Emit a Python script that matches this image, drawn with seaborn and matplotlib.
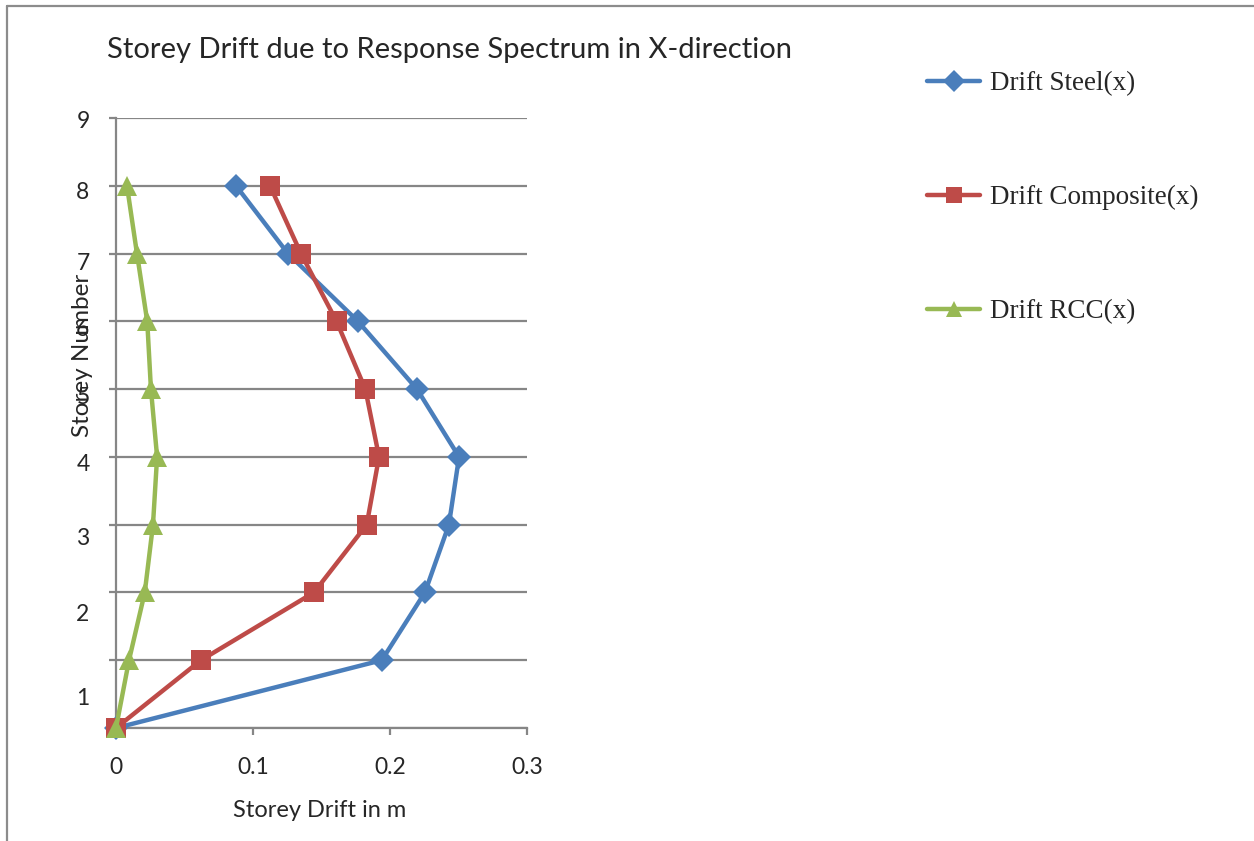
import matplotlib
matplotlib.use("Agg")
import matplotlib.pyplot as plt
import matplotlib.lines as mlines
import seaborn as sns
import pandas as pd
import numpy as np

# ---- data ----
storeys = [0, 1, 2, 3, 4, 5, 6, 7, 8]
drift_steel = [0.0, 0.194, 0.2255, 0.243, 0.2504, 0.2197, 0.1766, 0.1255, 0.0876]
drift_composite = [0.0, 0.062, 0.1445, 0.183, 0.192, 0.182, 0.161, 0.135, 0.1124]
drift_rcc = [0.0, 0.0095, 0.021, 0.027, 0.030, 0.0255, 0.0228, 0.0153, 0.008]
series_names = ["Drift Steel(x)", "Drift Composite(x)", "Drift RCC(x)"]
x_ticks = [0, 0.1, 0.2, 0.3]
x_tick_labels = ["0", "0.1", "0.2", "0.3"]
y_grid = [0, 1, 2, 3, 4, 5, 6, 7, 8, 9]
y_label_pos = [0.47, 1.71, 2.83, 3.92, 4.91, 5.91, 6.89, 7.93, 8.98]
y_label_text = ["1", "2", "3", "4", "5", "6", "7", "8", "9"]

colors = {"Drift Steel(x)": "#4A7EBB", "Drift Composite(x)": "#BE4B48", "Drift RCC(x)": "#98B954"}
markers = {"Drift Steel(x)": "D", "Drift Composite(x)": "s", "Drift RCC(x)": "^"}

df = pd.concat([
    pd.DataFrame({"Storey": storeys, "Drift": drift_steel, "Series": series_names[0]}),
    pd.DataFrame({"Storey": storeys, "Drift": drift_composite, "Series": series_names[1]}),
    pd.DataFrame({"Storey": storeys, "Drift": drift_rcc, "Series": series_names[2]}),
])

sns.set_style("white")
plt.rcParams["font.family"] = ["Lato", "DejaVu Sans"]

W, H = 1254, 841
fig = plt.figure(figsize=(W / 100, H / 100), dpi=100)
ax = fig.add_axes([116 / W, 1 - 728 / H, 411 / W, 610 / H])

grid_col = "#868686"
ax.set_yticks(y_grid, minor=True)
ax.yaxis.grid(True, which="minor", color=grid_col, linewidth=1.6)
ax.set_axisbelow(True)

for name in series_names:
    sub = df[df["Series"] == name]
    ms = 12 if markers[name] == "D" else 14
    sns.lineplot(data=sub, x="Drift", y="Storey", orient="y", ax=ax,
                 color=colors[name], marker=markers[name], markersize=ms,
                 markeredgewidth=0, linewidth=3.2, label=name, legend=False,
                 clip_on=False, zorder=3)

ax.set_xlim(0, 0.3)
ax.set_ylim(0, 9)
ax.set_xticks(x_ticks)
ax.set_xticklabels(x_tick_labels, fontsize=16.5)
ax.set_yticks(y_label_pos)
ax.set_yticklabels(y_label_text, fontsize=16.5)
ax.tick_params(axis="y", which="major", length=0, pad=19)
ax.tick_params(axis="y", which="minor", length=5, width=1.6, color=grid_col, left=True)
ax.tick_params(axis="x", which="major", length=5, width=1.6, color=grid_col, bottom=True, direction="out", pad=16)

for s in ["top", "right"]:
    ax.spines[s].set_visible(False)
for s in ["left", "bottom"]:
    ax.spines[s].set_color(grid_col)
    ax.spines[s].set_linewidth(1.6)

ax.set_xlabel("Storey Drift in m", fontsize=17)
ax.xaxis.set_label_coords(0.496, -0.118)
ax.set_ylabel("Storey Number", fontsize=17.5)
ax.yaxis.set_label_coords(-0.056, 0.611)

fig.text(107 / W, 1 - 50 / H, "Storey Drift due to Response Spectrum in X-direction",
         fontsize=21, va="center", ha="left")

handles = [mlines.Line2D([], [], color=colors[n], marker=markers[n], linewidth=3.2,
                         markersize=11, markeredgewidth=0) for n in series_names]
fig.legend(handles, series_names, loc="upper left", bbox_to_anchor=(903 / W, 1 - 47 / H),
           frameon=False, prop={"family": "Liberation Serif", "size": 19.5},
           labelspacing=3.28, handlelength=1.95, handletextpad=0.35)

# chart border lines (left and top)
fig.add_artist(mlines.Line2D([7 / W, 7 / W], [0, 1 - 6 / H], color="#8C8C8C", linewidth=1.6,
                             transform=fig.transFigure))
fig.add_artist(mlines.Line2D([7 / W, 1], [1 - 6 / H, 1 - 6 / H], color="#8C8C8C", linewidth=1.6,
                             transform=fig.transFigure))

fig.savefig("out.png", dpi=100, facecolor="white")
